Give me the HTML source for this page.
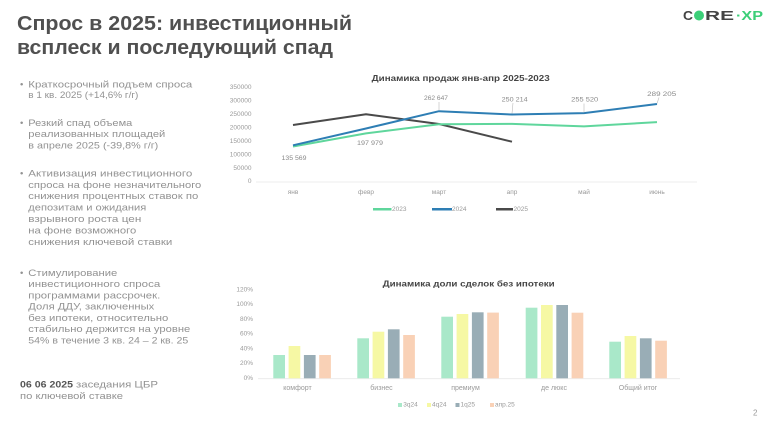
<!DOCTYPE html>
<html><head><meta charset="utf-8"><style>
html,body{margin:0;padding:0;background:#fff;}
svg{display:block;}
text{font-family:"Liberation Sans",sans-serif;}
</style></head><body>
<svg width="777" height="428" viewBox="0 0 777 428" xmlns="http://www.w3.org/2000/svg">
<rect width="777" height="428" fill="#fff"/>
<!-- Title -->
<g fill="#505050" font-weight="bold" font-size="20">
<text x="17" y="30" textLength="335" lengthAdjust="spacingAndGlyphs">Спрос в 2025: инвестиционный</text>
<text x="17" y="54" textLength="316" lengthAdjust="spacingAndGlyphs">всплеск и последующий спад</text>
</g>
<!-- Logo -->
<g font-weight="bold" font-size="13" dominant-baseline="central">
<text x="683" y="15.5" fill="#444" textLength="10" lengthAdjust="spacingAndGlyphs">C</text>
<circle cx="699" cy="15.5" r="5" fill="#3ccf78"/>
<text x="705" y="15.5" fill="#444" textLength="29" lengthAdjust="spacingAndGlyphs">RE</text>
<text x="736" y="15.5" fill="#3ccf78" textLength="27" lengthAdjust="spacingAndGlyphs">·XP</text>
</g>
<!-- Left text -->
<g fill="#929292" font-size="9.5" dominant-baseline="central">
<text x="20" y="85">•</text>
<text x="28.3" y="85" textLength="164" lengthAdjust="spacingAndGlyphs">Краткосрочный подъем спроса</text>
<text x="28.3" y="95.7" textLength="110" lengthAdjust="spacingAndGlyphs">в 1 кв. 2025 (+14,6% г/г)</text>
<text x="20" y="123.3">•</text>
<text x="28.3" y="123.3" textLength="104" lengthAdjust="spacingAndGlyphs">Резкий спад объема</text>
<text x="28.3" y="134.3" textLength="137" lengthAdjust="spacingAndGlyphs">реализованных площадей</text>
<text x="28.3" y="146" textLength="130" lengthAdjust="spacingAndGlyphs">в апреле 2025 (-39,8% г/г)</text>
<text x="20" y="174">•</text>
<text x="28.3" y="174" textLength="164" lengthAdjust="spacingAndGlyphs">Активизация инвестиционного</text>
<text x="28.3" y="185.3" textLength="173" lengthAdjust="spacingAndGlyphs">спроса на фоне незначительного</text>
<text x="28.3" y="196.7" textLength="170" lengthAdjust="spacingAndGlyphs">снижения процентных ставок по</text>
<text x="28.3" y="208" textLength="118" lengthAdjust="spacingAndGlyphs">депозитам и ожидания</text>
<text x="28.3" y="219.5" textLength="113" lengthAdjust="spacingAndGlyphs">взрывного роста цен</text>
<text x="28.3" y="231" textLength="108" lengthAdjust="spacingAndGlyphs">на фоне возможного</text>
<text x="28.3" y="242.7" textLength="144" lengthAdjust="spacingAndGlyphs">снижения ключевой ставки</text>
<text x="20" y="273.3">•</text>
<text x="28.3" y="273.3" textLength="89" lengthAdjust="spacingAndGlyphs">Стимулирование</text>
<text x="28.3" y="284.5" textLength="132" lengthAdjust="spacingAndGlyphs">инвестиционного спроса</text>
<text x="28.3" y="295.8" textLength="132" lengthAdjust="spacingAndGlyphs">программами рассрочек.</text>
<text x="28.3" y="307" textLength="126" lengthAdjust="spacingAndGlyphs">Доля ДДУ, заключенных</text>
<text x="28.3" y="318.3" textLength="140" lengthAdjust="spacingAndGlyphs">без ипотеки, относительно</text>
<text x="28.3" y="329.7" textLength="162" lengthAdjust="spacingAndGlyphs">стабильно держится на уровне</text>
<text x="28.3" y="341" textLength="160" lengthAdjust="spacingAndGlyphs">54% в течение 3 кв. 24 – 2 кв. 25</text>
<text x="20" y="385" fill="#555" font-weight="bold" textLength="53" lengthAdjust="spacingAndGlyphs">06 06 2025</text>
<text x="76" y="385" textLength="82" lengthAdjust="spacingAndGlyphs">заседания ЦБР</text>
<text x="20" y="396.3" textLength="103" lengthAdjust="spacingAndGlyphs">по ключевой ставке</text>
</g>

<!-- Line chart -->
<text x="371.7" y="78.3" dominant-baseline="central" font-size="8" font-weight="bold" fill="#444" textLength="178" lengthAdjust="spacingAndGlyphs">Динамика продаж янв-апр 2025-2023</text>
<g fill="#9a9a9a" font-size="6.5" text-anchor="end" dominant-baseline="central">
<text x="251.5" y="87.7">350000</text>
<text x="251.5" y="101.1">300000</text>
<text x="251.5" y="114.5">250000</text>
<text x="251.5" y="128">200000</text>
<text x="251.5" y="141.4">150000</text>
<text x="251.5" y="154.8">100000</text>
<text x="251.5" y="168.3">50000</text>
<text x="251.5" y="181.7">0</text>
</g>
<line x1="256" y1="182" x2="697" y2="182" stroke="#ececec" stroke-width="1"/>
<g fill="#9a9a9a" font-size="6.5" text-anchor="middle" dominant-baseline="central">
<text x="293" y="192.7">янв</text>
<text x="366" y="192.7">февр</text>
<text x="439" y="192.7">март</text>
<text x="512" y="192.7">апр</text>
<text x="584" y="192.7">май</text>
<text x="657" y="192.7">июнь</text>
</g>
<g fill="none" stroke-width="2" stroke-linejoin="round">
<polyline stroke="#4a4a4a" points="293,125 366,114.3 439,124 512,141.7"/>
<polyline stroke="#5fd69c" points="293,146.5 366,133.4 439,124.2 512,123.9 584,126.4 657,122.1"/>
<polyline stroke="#2e7eb4" points="293,145.3 366,128.5 439,111.2 512,114.5 584,113.1 657,104"/>
</g>
<g stroke="#bbb" stroke-width="0.6">
<line x1="439" y1="102" x2="439" y2="110.5"/>
<line x1="513" y1="103" x2="512" y2="113.5"/>
<line x1="584" y1="103.5" x2="584" y2="112.5"/>
<line x1="659" y1="97.5" x2="657" y2="103.5"/>
</g>
<g fill="#8a8a8a" font-size="6.8" text-anchor="middle" dominant-baseline="central">
<text x="294" y="158.3" textLength="25" lengthAdjust="spacingAndGlyphs">135 569</text>
<text x="370" y="143.3" textLength="26" lengthAdjust="spacingAndGlyphs">197 979</text>
<text x="436" y="98.3" textLength="24" lengthAdjust="spacingAndGlyphs">262 647</text>
<text x="514.7" y="100" textLength="26" lengthAdjust="spacingAndGlyphs">250 214</text>
<text x="584.7" y="100" textLength="27" lengthAdjust="spacingAndGlyphs">255 520</text>
<text x="661.7" y="94.3" textLength="29" lengthAdjust="spacingAndGlyphs">289 205</text>
</g>
<g stroke-width="2.5">
<line x1="373" y1="209.3" x2="391.5" y2="209.3" stroke="#5fd69c"/>
<line x1="432" y1="209.3" x2="452" y2="209.3" stroke="#2e7eb4"/>
<line x1="496" y1="209.3" x2="513" y2="209.3" stroke="#4a4a4a"/>
</g>
<g fill="#9a9a9a" font-size="6.5" dominant-baseline="central">
<text x="392" y="209.3">2023</text>
<text x="452" y="209.3">2024</text>
<text x="513.5" y="209.3">2025</text>
</g>

<!-- Bar chart -->
<text x="382.7" y="284" dominant-baseline="central" font-size="8" font-weight="bold" fill="#444" textLength="172" lengthAdjust="spacingAndGlyphs">Динамика доли сделок без ипотеки</text>
<g fill="#9a9a9a" font-size="6.5" text-anchor="end" dominant-baseline="central">
<text x="253" y="290">120%</text>
<text x="253" y="304.6">100%</text>
<text x="253" y="319.3">80%</text>
<text x="253" y="334">60%</text>
<text x="253" y="348.9">40%</text>
<text x="253" y="363.6">20%</text>
<text x="253" y="378.3">0%</text>
</g>
<line x1="258" y1="378.6" x2="680" y2="378.6" stroke="#ececec" stroke-width="1"/>
<g>
<rect x="273.3" y="355" width="11.7" height="23.3" fill="#a9e8c9"/>
<rect x="288.6" y="346" width="11.7" height="32.3" fill="#f6f8a4"/>
<rect x="303.9" y="355" width="11.7" height="23.3" fill="#99adb6"/>
<rect x="319.2" y="355" width="11.7" height="23.3" fill="#f9d1b6"/>
<rect x="357.3" y="338.3" width="11.7" height="40" fill="#a9e8c9"/>
<rect x="372.6" y="331.7" width="11.7" height="46.6" fill="#f6f8a4"/>
<rect x="387.9" y="329.3" width="11.7" height="49" fill="#99adb6"/>
<rect x="403.2" y="335" width="11.7" height="43.3" fill="#f9d1b6"/>
<rect x="441.3" y="316.7" width="11.7" height="61.6" fill="#a9e8c9"/>
<rect x="456.6" y="314" width="11.7" height="64.3" fill="#f6f8a4"/>
<rect x="471.9" y="312.3" width="11.7" height="66" fill="#99adb6"/>
<rect x="487.2" y="312.6" width="11.7" height="65.7" fill="#f9d1b6"/>
<rect x="525.7" y="307.7" width="11.7" height="70.6" fill="#a9e8c9"/>
<rect x="541" y="305" width="11.7" height="73.3" fill="#f6f8a4"/>
<rect x="556.3" y="305" width="11.7" height="73.3" fill="#99adb6"/>
<rect x="571.6" y="312.7" width="11.7" height="65.6" fill="#f9d1b6"/>
<rect x="609.3" y="341.7" width="11.7" height="36.6" fill="#a9e8c9"/>
<rect x="624.6" y="336" width="11.7" height="42.3" fill="#f6f8a4"/>
<rect x="639.9" y="338.3" width="11.7" height="40" fill="#99adb6"/>
<rect x="655.2" y="340.7" width="11.7" height="37.6" fill="#f9d1b6"/>
</g>
<g fill="#9a9a9a" font-size="7" text-anchor="middle" dominant-baseline="central">
<text x="297.5" y="388.3">комфорт</text>
<text x="381.5" y="388.3">бизнес</text>
<text x="465.5" y="388.3">премиум</text>
<text x="554" y="388.3">де люкс</text>
<text x="638" y="388.3">Общий итог</text>
</g>
<g>
<rect x="398" y="403" width="4" height="4" fill="#a9e8c9"/>
<rect x="427" y="403" width="4" height="4" fill="#f6f8a4"/>
<rect x="455.5" y="403" width="4" height="4" fill="#99adb6"/>
<rect x="490" y="403" width="4" height="4" fill="#f9d1b6"/>
</g>
<g fill="#9a9a9a" font-size="6.5" dominant-baseline="central">
<text x="403.3" y="405">3q24</text>
<text x="432" y="405">4q24</text>
<text x="460.5" y="405">1q25</text>
<text x="495" y="405">апр.25</text>
</g>
<text x="753" y="413" dominant-baseline="central" font-size="8" fill="#999">2</text>
</svg>
</body></html>
